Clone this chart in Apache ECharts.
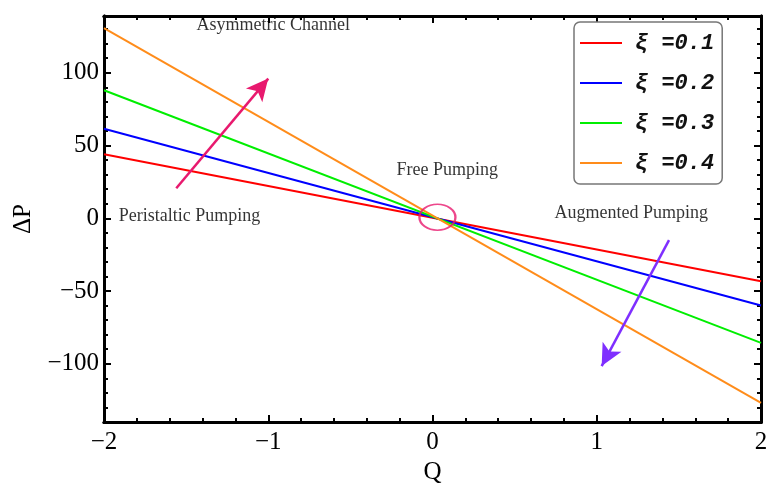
<!DOCTYPE html>
<html>
<head>
<meta charset="utf-8">
<script src="https://cdn.jsdelivr.net/npm/echarts@6/dist/echarts.min.js"></script>
<style>
html, body { margin: 0; padding: 0; background: #fff; }
#main { width: 767px; height: 488px; }
</style>
</head>
<body>
<div id="main"></div>
<script>
// Q values at the two ends of each line
const qValues = [-2, 2]
// ΔP for each ξ
const dpXi1 = [44, -43.3]
const dpXi2 = [61.5, -60]
const dpXi3 = [88, -85.6]
const dpXi4 = [130.7, -126.8]
const seriesNames = ['ξ =0.1', 'ξ =0.2', 'ξ =0.3', 'ξ =0.4']
const seriesColors = ['#ff0000', '#0000ff', '#00ee00', '#ff8c1a']

// tick labels
const xMajor = [-2, -1, 0, 1, 2]
const xMinor = [-1.8, -1.6, -1.4, -1.2, -0.8, -0.6, -0.4, -0.2, 0.2, 0.4, 0.6, 0.8, 1.2, 1.4, 1.6, 1.8]
const yMajor = [-100, -50, 0, 50, 100]
const yMinor = [-130, -120, -110, -90, -80, -70, -60, -40, -30, -20, -10, 10, 20, 30, 40, 60, 70, 80, 90, 110, 120, 130]

// annotations (data coordinates)
const noteTexts = ['Asymmetric Channel', 'Peristaltic Pumping', 'Free Pumping', 'Augmented Pumping']
const noteQ = [-0.97, -1.48, 0.09, 1.21]
const noteDP = [132.6, 1.4, 33, 3.4]
const pinkArrow = [[-1.56, 20.6], [-1.0, 96]]
const purpleArrow = [[1.44, -15], [1.03, -101.6]]
const freeCircle = [0.03, 0.7]

const chart = echarts.init(document.getElementById('main'))
const serif = 'Liberation Serif'

function xAxisOf(pos, ticks, len, labels) {
    return {
        type: 'value', position: pos, min: -2, max: 2,
        axisLine: { show: true, onZero: false, lineStyle: { color: '#000', width: 3 } },
        axisTick: { show: true, inside: true, length: len, customValues: ticks, lineStyle: { color: '#000', width: 2 } },
        axisLabel: labels ? {
            show: true, customValues: ticks, margin: 8,
            fontFamily: serif, fontSize: 25, color: '#000',
            formatter: v => (v < 0 ? '\u2212' + (-v) : '' + v)
        } : { show: false },
        splitLine: { show: false },
        name: labels ? 'Q' : '', nameLocation: 'middle', nameGap: 33,
        nameTextStyle: { fontFamily: serif, fontSize: 25, color: '#000' }
    }
}
function yAxisOf(pos, ticks, len, labels) {
    return {
        type: 'value', position: pos, min: -140, max: 139,
        axisLine: { show: true, onZero: false, lineStyle: { color: '#000', width: 3 } },
        axisTick: { show: true, inside: true, length: len, customValues: ticks, lineStyle: { color: '#000', width: 2 } },
        axisLabel: labels ? {
            show: true, customValues: ticks, margin: 5,
            fontFamily: serif, fontSize: 25, color: '#000',
            formatter: v => (v < 0 ? '\u2212' + (-v) : '' + v)
        } : { show: false },
        splitLine: { show: false },
        name: labels ? 'ΔP' : '', nameLocation: 'middle', nameGap: 68, nameRotate: 90,
        nameTextStyle: { fontFamily: serif, fontSize: 25, color: '#000' }
    }
}

const lineData = [dpXi1, dpXi2, dpXi3, dpXi4]
const series = lineData.map((vals, i) => ({
    name: seriesNames[i],
    type: 'line',
    data: qValues.map((q, j) => [q, vals[j]]),
    showSymbol: false,
    symbol: 'none',
    lineStyle: { color: seriesColors[i], width: 2 },
    itemStyle: { color: seriesColors[i] },
    silent: true,
    z: 3
}))

series.push({
    name: 'notes',
    type: 'scatter',
    symbolSize: 0,
    silent: true,
    data: noteTexts.map((t, i) => ({ value: [noteQ[i], noteDP[i]], text: t })),
    label: {
        show: true, position: 'inside',
        formatter: p => p.data.text,
        fontFamily: serif, fontSize: 18, color: '#000',
        textBorderWidth: 0
    },
    markLine: {
        silent: true,
        symbol: ['none', 'arrow'],
        symbolSize: [16, 22],
        label: { show: false },
        data: [
            [{ coord: pinkArrow[0], lineStyle: { color: '#e8196e', width: 2.5, type: 'solid' } }, { coord: pinkArrow[1] }],
            [{ coord: purpleArrow[0], lineStyle: { color: '#7f2fff', width: 2.5, type: 'solid' } }, { coord: purpleArrow[1] }]
        ]
    },
    z: 5
})

series.push({
    name: 'circle',
    type: 'scatter',
    silent: true,
    symbol: 'circle',
    symbolSize: [36, 26],
    data: [freeCircle],
    itemStyle: { color: 'rgba(0,0,0,0)', borderColor: '#e8196e', borderWidth: 2 },
    z: 6
})

chart.setOption({
    animation: false,
    backgroundColor: '#fff',
    grid: { left: 104, right: 6, top: 16, bottom: 66, outerBoundsMode: 'none', containLabel: false },
    xAxis: [
        xAxisOf('bottom', xMajor, 7, true),
        xAxisOf('bottom', xMinor, 4, false),
        xAxisOf('top', xMajor, 7, false),
        xAxisOf('top', xMinor, 4, false)
    ],
    yAxis: [
        yAxisOf('left', yMajor, 7, true),
        yAxisOf('left', yMinor, 4, false),
        yAxisOf('right', yMajor, 7, false),
        yAxisOf('right', yMinor, 4, false)
    ],
    legend: {
        show: true,
        data: seriesNames,
        orient: 'vertical',
        left: 574, top: 22,
        padding: [8, 8, 8, 6],
        itemGap: 14,
        itemWidth: 42,
        itemHeight: 2,
        backgroundColor: '#fff',
        borderColor: '#777',
        borderWidth: 1.5,
        borderRadius: 6,
        icon: 'rect',
        textStyle: { fontFamily: 'Liberation Mono', fontWeight: 'bold', fontStyle: 'italic', fontSize: 22, lineHeight: 26, color: '#111', padding: [0, 0, 0, 8] },
        selectedMode: false,
        z: 10
    },
    series: series
})
</script>
</body>
</html>
